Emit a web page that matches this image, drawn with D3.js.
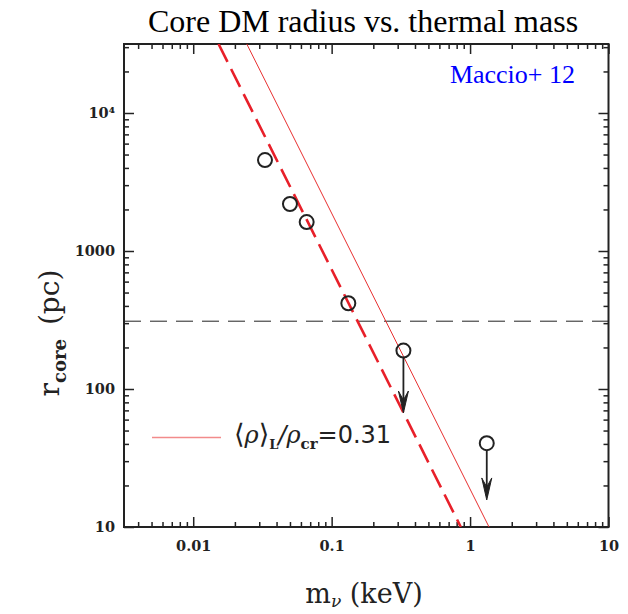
<!DOCTYPE html>
<html>
<head>
<meta charset="utf-8">
<script src="https://cdn.jsdelivr.net/npm/d3@7"></script>
<style>
  body { margin: 0; background: #fff; }
  svg { display: block; }
</style>
</head>
<body>
<div id="chart"></div>
<script>
// data (m in keV, r in pc)
const pointMass = [0.033, 0.050, 0.066, 0.132, 0.33, 1.32];
const pointRadius = [4560, 2190, 1620, 418, 190, 40.5];
// upper limits: arrow tips below the last two points
const limitMass = [0.33, 1.32];
const limitFrom = [190, 40.5];
const limitTo = [67, 15.7];
// model lines r ~ m^-2, given by their end points
const dashedMass = [0.01524, 0.857];
const dashedRadius = [31623, 10];
const solidMass = [0.02438, 1.371];
const solidRadius = [31623, 10];
const horizRadius = 310;
const xTicks = [0.01, 0.1, 1, 10];
const xTickLabels = ["0.01", "0.1", "1", "10"];
const yTicks = [10, 100, 1000, 10000];
const yTickLabels = ["10", "100", "1000", "10\u2074"];

const W = 628, H = 614;
const margin = { top: 44, right: 20, bottom: 87, left: 124 };
const width = 608.5 - margin.left;
const height = 527 - margin.top;

const x = d3.scaleLog().domain([Math.pow(10, -2.5), 10]).range([0, width]);
const y = d3.scaleLog().domain([10, Math.pow(10, 4.5)]).range([height, 0]);

const svg = d3.select("#chart").append("svg")
  .attr("width", W)
  .attr("height", H);

const g = svg.append("g")
  .attr("transform", "translate(" + margin.left + "," + margin.top + ")");

// minor tick values
const xMinor = [];
for (let e = -3; e <= 1; e++) for (let k = 2; k <= 9; k++) {
  const v = k * Math.pow(10, e);
  if (v > x.domain()[0] && v < x.domain()[1]) xMinor.push(v);
}
const yMinor = [];
for (let e = 1; e <= 4; e++) for (let k = 2; k <= 9; k++) {
  const v = k * Math.pow(10, e);
  if (v > y.domain()[0] && v < y.domain()[1]) yMinor.push(v);
}

function styleAxis(sel) {
  sel.select(".domain").remove();
  sel.selectAll(".tick line").attr("stroke", "#222").attr("stroke-width", 1.5);
  sel.selectAll("text")
    .attr("font-family", "DejaVu Serif, serif")
    .attr("font-weight", "bold")
    .attr("font-size", 14.5)
    .attr("fill", "#222");
}

// bottom axis
g.append("g").attr("transform", "translate(0," + height + ")")
  .call(d3.axisBottom(x).tickValues(xTicks).tickSize(-10).tickPadding(14)
    .tickFormat((d, i) => xTickLabels[i]))
  .call(styleAxis);
g.append("g").attr("transform", "translate(0," + height + ")")
  .call(d3.axisBottom(x).tickValues(xMinor).tickSize(-5).tickFormat(""))
  .call(styleAxis);
// top axis
g.append("g")
  .call(d3.axisTop(x).tickValues(xTicks).tickSize(-10).tickFormat(""))
  .call(styleAxis);
g.append("g")
  .call(d3.axisTop(x).tickValues(xMinor).tickSize(-5).tickFormat(""))
  .call(styleAxis);
// left axis
g.append("g")
  .call(d3.axisLeft(y).tickValues(yTicks).tickSize(-10).tickPadding(9)
    .tickFormat((d, i) => yTickLabels[i]))
  .call(styleAxis);
g.append("g")
  .call(d3.axisLeft(y).tickValues(yMinor).tickSize(-5).tickFormat(""))
  .call(styleAxis);
// right axis
g.append("g").attr("transform", "translate(" + width + ",0)")
  .call(d3.axisRight(y).tickValues(yTicks).tickSize(-10).tickFormat(""))
  .call(styleAxis);
g.append("g").attr("transform", "translate(" + width + ",0)")
  .call(d3.axisRight(y).tickValues(yMinor).tickSize(-5).tickFormat(""))
  .call(styleAxis);

// frame
g.append("rect")
  .attr("width", width).attr("height", height)
  .attr("fill", "none").attr("stroke", "#222").attr("stroke-width", 2);

g.append("clipPath").attr("id", "clip")
  .append("rect").attr("width", width).attr("height", height);
const plot = g.append("g").attr("clip-path", "url(#clip)");

// horizontal dashed line
plot.append("line")
  .attr("x1", 0).attr("x2", width)
  .attr("y1", y(horizRadius)).attr("y2", y(horizRadius))
  .attr("stroke", "#222").attr("stroke-width", 1)
  .attr("stroke-dasharray", "17,9");

const line = d3.line().x(d => x(d[0])).y(d => y(d[1]));

// model lines
plot.append("path")
  .attr("d", line(dashedMass.map((m, i) => [m, dashedRadius[i]])))
  .attr("fill", "none").attr("stroke", "#e8202a")
  .attr("stroke-width", 2.6).attr("stroke-dasharray", "20,8");
plot.append("path")
  .attr("d", line(solidMass.map((m, i) => [m, solidRadius[i]])))
  .attr("fill", "none").attr("stroke", "#e83030").attr("stroke-width", 1);

// upper-limit arrows
limitMass.forEach((m, i) => {
  const ax = x(m), y0 = y(limitFrom[i]) + 7, y1 = y(limitTo[i]);
  plot.append("line")
    .attr("x1", ax).attr("x2", ax).attr("y1", y0).attr("y2", y1 - 4)
    .attr("stroke", "#222").attr("stroke-width", 1.8);
  plot.append("path")
    .attr("d", `M${ax},${y1} L${ax - 5},${y1 - 22} L${ax},${y1 - 13} L${ax + 5},${y1 - 22} Z`)
    .attr("fill", "#222").attr("stroke", "#222").attr("stroke-width", 1)
    .attr("stroke-linejoin", "round");
});

// points
plot.selectAll("circle")
  .data(pointMass.map((m, i) => [m, pointRadius[i]]))
  .enter().append("circle")
  .attr("cx", d => x(d[0]))
  .attr("cy", d => y(d[1]))
  .attr("r", 7)
  .attr("fill", "none")
  .attr("stroke", "#222")
  .attr("stroke-width", 2);

// legend
g.append("line")
  .attr("x1", 152 - margin.left).attr("x2", 221 - margin.left)
  .attr("y1", 437.5 - margin.top).attr("y2", 437.5 - margin.top)
  .attr("stroke", "#f28b8b").attr("stroke-width", 1.5);
const leg = g.append("text")
  .attr("x", 234 - margin.left).attr("y", 443 - margin.top)
  .attr("font-family", "DejaVu Sans, sans-serif")
  .attr("font-size", 24).attr("fill", "#222");
leg.append("tspan").text("\u27E8").attr("font-size", 27).attr("font-family", "DejaVu Serif, serif");
leg.append("tspan").text("\u03C1").attr("font-style", "italic").attr("font-family", "DejaVu Serif, serif");
leg.append("tspan").text("\u27E9").attr("font-size", 27).attr("font-family", "DejaVu Serif, serif");
leg.append("tspan").text("L").attr("font-size", 13).attr("font-weight", "bold")
  .attr("font-family", "DejaVu Serif, serif").attr("dy", 6);
leg.append("tspan").text("/").attr("dy", -6).attr("font-style", "italic");
leg.append("tspan").text("\u03C1").attr("font-style", "italic").attr("font-family", "DejaVu Serif, serif");
leg.append("tspan").text("cr").attr("font-size", 15).attr("font-weight", "bold")
  .attr("font-family", "DejaVu Serif, serif").attr("dy", 6);
leg.append("tspan").text("=0.31").attr("dy", -6);

// title and annotation
svg.append("text")
  .attr("x", 363).attr("y", 32)
  .attr("text-anchor", "middle")
  .attr("font-family", "Liberation Serif, Times New Roman, serif")
  .attr("font-size", 32).attr("fill", "#000")
  .text("Core DM radius vs. thermal mass");
svg.append("text")
  .attr("x", 575).attr("y", 83)
  .attr("text-anchor", "end")
  .attr("font-family", "Liberation Serif, Times New Roman, serif")
  .attr("font-size", 26).attr("fill", "#0000ff")
  .text("Maccio+ 12");

// axis titles
const xt = svg.append("text")
  .attr("x", 364).attr("y", 603)
  .attr("text-anchor", "middle")
  .attr("font-family", "DejaVu Serif, serif")
  .attr("font-size", 27).attr("fill", "#222");
xt.append("tspan").text("m");
xt.append("tspan").text("\u03BD").attr("font-size", 17).attr("font-style", "italic").attr("dy", 4);
xt.append("tspan").text(" (keV)").attr("dy", -4);

const yt = svg.append("text")
  .attr("transform", "translate(59,333) rotate(-90)")
  .attr("text-anchor", "middle")
  .attr("font-family", "DejaVu Serif, serif")
  .attr("font-size", 28).attr("fill", "#222");
yt.append("tspan").text("r");
yt.append("tspan").text("core").attr("font-size", 18).attr("font-weight", "bold").attr("dy", 7);
yt.append("tspan").text("\u2002(pc)").attr("dy", -7);
</script>
</body>
</html>
